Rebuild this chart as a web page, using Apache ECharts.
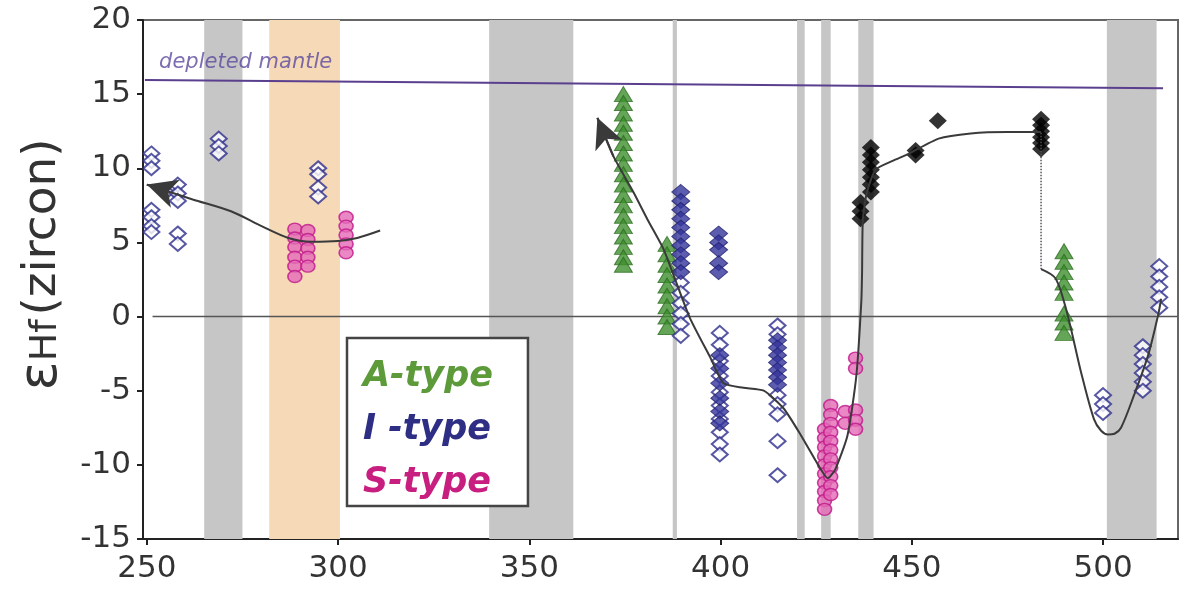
<!DOCTYPE html>
<html><head><meta charset="utf-8">
<script src="https://cdn.jsdelivr.net/npm/echarts@6/dist/echarts.min.js"></script>
<style>html,body{margin:0;padding:0;background:#fff}#c{width:1187px;height:595px}</style>
</head><body><div id="c"></div>
<script>
// ---- axes ----
const xTicks = [250, 300, 350, 400, 450, 500];
const xRange = [249, 519.6];
const yRange = [-15, 20];
const yStep = 5;

// ---- shaded age bands (Ma) ----
const grayBands = [[265, 275], [339.5, 361.5], [387.5, 388.6], [420, 422], [426.3, 428.8], [436, 440], [501, 514]];
const orangeBands = [[282, 300.5]];

// ---- reference lines ----
const depletedMantle = [[249.5, 15.95], [515.7, 15.4]];
const dmLabelPos = [[253.2, 17.1]];
const zeroLine = [[251.5, 0], [519.5, 0]];

// ---- data columns: [age, [eHf values]] ----
const iTypeOpenCols = [
  [251.2, [11.0, 10.5, 10.0, 7.2, 6.7, 6.1, 5.7]],
  [255.0, [8.4]],
  [258.1, [8.9, 8.3, 7.8, 5.6, 4.9]],
  [268.8, [12.0, 11.5, 11.0]],
  [294.8, [10.0, 9.6, 8.7, 8.1]],
  [389.6, [2.3, 1.6, 0.9, 0.2, -0.5, -1.3]],
  [399.8, [-1.1, -1.9, -3.0, -4.0, -5.1, -6.0, -6.9, -7.8, -8.6, -9.3]],
  [414.9, [-0.6, -1.2, -5.3, -5.9, -6.6, -8.4, -10.7]],
  [500.0, [-5.3, -5.9, -6.5]],
  [510.4, [-2.0, -2.6, -3.2, -3.8, -4.4, -5.0]],
  [514.7, [3.4, 2.7, 2.0, 1.3, 0.6]]
];
const iTypeFilledCols = [
  [389.6, [8.4, 7.8, 7.2, 6.6, 6.0, 5.4, 4.8, 4.2, 3.6, 3.0]],
  [399.5, [5.6, 5.0, 4.5, 3.6, 3.0]],
  [399.8, [-2.6, -3.5, -4.5, -5.5, -6.4, -7.2]],
  [414.9, [-1.6, -2.1, -2.6, -3.1, -3.6, -4.1, -4.6]]
];
const sTypeCols = [
  [288.7, [5.9, 5.3, 4.7, 4.0, 3.4, 2.7]],
  [292.1, [5.8, 5.2, 4.6, 4.0, 3.4]],
  [302.1, [6.7, 6.1, 5.5, 4.9, 4.3]],
  [427.2, [-7.6, -8.2, -8.8, -9.4, -10.0, -10.6, -11.2, -11.8, -12.4, -13.0]],
  [428.8, [-6.0, -6.6, -7.2, -7.8, -8.4, -9.0, -9.6, -10.2, -10.8, -11.4, -12.0]],
  [432.6, [-6.4, -7.2]],
  [435.3, [-2.8, -3.5, -6.3, -7.0, -7.6]]
];
const aTypeCols = [
  [374.6, [15.0, 14.4, 13.7, 13.0, 12.4, 11.7, 11.0, 10.3, 9.6, 8.9, 8.2, 7.5, 6.8, 6.1, 5.4, 4.7, 4.0, 3.5]],
  [386.0, [4.9, 4.2, 3.5, 2.8, 2.1, 1.4, 0.7, 0.0, -0.7]],
  [489.8, [4.4, 3.7, 3.0, 2.3, 1.6, 0.2, -0.4, -1.1]]
];
const blackCols = [
  [436.6, [7.7, 7.1, 6.6]],
  [439.3, [11.4, 10.9, 10.4, 9.9, 9.4, 8.9, 8.4]],
  [451.0, [10.9, 11.2]],
  [456.8, [13.2]],
  [483.8, [13.3, 12.9, 12.5, 12.1, 11.7, 11.3]]
];

// ---- evolution curves ----
const curveA = [[250, 8.9], [256, 8.4], [262, 7.9], [272, 7.1], [280, 6.1], [287, 5.3], [293, 5.05], [300, 5.1], [305, 5.3], [311, 5.8]];
const curveB = [[367.8, 13.4], [372, 10.8], [377.2, 8.4], [381, 6.5], [385, 4.6], [388, 2.6], [392, -0.1], [397.4, -2.8], [400.8, -4.5], [406, -4.8], [411.3, -5.0], [416.5, -6.2], [421, -8.0], [426.2, -10.3], [428, -10.9], [430, -10.3], [433.2, -8.0], [435.5, -4.0], [436.8, 1.0], [437, 3.0], [437.2, 6.5], [438.2, 8.3], [440.5, 9.9], [445, 10.5], [449, 10.95], [457, 12.0], [465.4, 12.35], [475, 12.45], [483.8, 12.45]];
const curveDotted = [[483.8, 12.4], [483.8, 3.2]];
const curveC = [[483.8, 3.2], [487.5, 2.6], [489.8, 1.0], [491.6, -0.8], [494.2, -3.7], [497.6, -6.9], [499.5, -7.7], [501.3, -7.95], [503, -7.9], [504.7, -7.5], [508.1, -5.3], [511.8, -2.6], [514.4, 0.1], [515.2, 1.2]];

function expand(cols) {
  const out = [];
  cols.forEach(c => c[1].forEach(v => out.push([c[0], v])));
  return out;
}
function arrowAtStart(curve) {
  return {
    silent: true, symbol: ['arrow', 'none'], symbolSize: [22, 30],
    lineStyle: {color: '#3a3a3a', width: 2, type: 'solid'},
    label: {show: false}, emphasis: {disabled: true},
    data: [[{coord: curve[0]}, {coord: curve[1]}]]
  };
}

const chart = echarts.init(document.getElementById('c'), null, {renderer: 'canvas'});
const curveStyle = {color: '#3a3a3a', width: 2};
const F = 'DejaVu Sans';

chart.setOption({
  animation: false,
  backgroundColor: '#fff',
  grid: {left: 143, right: 9, top: 20, bottom: 56, show: true, borderColor: '#666', borderWidth: 2, backgroundColor: 'transparent'},
  xAxis: {
    type: 'value', min: xRange[0], max: xRange[1],
    axisLine: {onZero: false, lineStyle: {color: '#222', width: 2}},
    axisTick: {show: true, length: 6, customValues: xTicks, lineStyle: {color: '#222', width: 2}},
    axisLabel: {customValues: xTicks, fontFamily: F, fontSize: 31, color: '#333', margin: 14},
    splitLine: {show: false}
  },
  yAxis: {
    type: 'value', min: yRange[0], max: yRange[1], interval: yStep,
    axisLine: {show: true, lineStyle: {color: '#222', width: 2}},
    axisTick: {show: true, length: 6, lineStyle: {color: '#222', width: 2}},
    axisLabel: {fontFamily: F, fontSize: 31, color: '#333', margin: 12},
    splitLine: {show: false},
    name: '{e|ε}{h|Hf} {z|(zircon)}',
    nameLocation: 'middle', nameGap: 73,
    nameTextStyle: {
      color: '#333', fontFamily: F, padding: [0, 0, 0, 30],
      rich: {
        e: {fontSize: 54, fontFamily: F, color: '#333'},
        h: {fontSize: 38, fontFamily: F, color: '#333', padding: [8, 0, 0, 0]},
        z: {fontSize: 47, fontFamily: F, color: '#333'}
      }
    }
  },
  legend: {
    left: 347, top: 338, orient: 'vertical', selectedMode: false,
    icon: 'rect', itemWidth: 0, itemHeight: 0, itemGap: 13,
    padding: [19, 35, 3, 10],
    borderColor: '#444', borderWidth: 2.5, backgroundColor: '#fff',
    textStyle: {fontFamily: F, fontSize: 35, fontWeight: 'bold', fontStyle: 'italic', lineHeight: 40},
    data: [
      {name: 'A-type', textStyle: {color: '#5c9a3a'}},
      {name: 'I -type', textStyle: {color: '#2e2e84'}},
      {name: 'S-type', textStyle: {color: '#c81e80'}}
    ]
  },
  series: [
    {
      name: 'bands', type: 'line', data: [], z: 1, silent: true,
      markArea: {
        silent: true,
        data: grayBands.map(b => [{xAxis: b[0], itemStyle: {color: '#c6c6c6'}}, {xAxis: b[1]}])
          .concat(orangeBands.map(b => [{xAxis: b[0], itemStyle: {color: '#f6dab8'}}, {xAxis: b[1]}]))
      }
    },
    {name: 'zero', type: 'line', data: zeroLine, symbol: 'none', z: 2, lineStyle: {color: '#555', width: 1.5}},
    {name: 'dm', type: 'line', data: depletedMantle, symbol: 'none', z: 2, lineStyle: {color: '#5a3f8e', width: 2}},
    {
      name: 'dmLabel', type: 'scatter', data: dmLabelPos, symbolSize: 0, z: 2,
      label: {show: true, position: 'right', distance: 0, formatter: 'depleted mantle',
        fontFamily: F, fontStyle: 'italic', fontSize: 21, color: '#5b4a9e'}
    },
    {name: 'black', type: 'scatter', data: expand(blackCols), symbol: 'diamond', symbolSize: [18, 17], z: 3,
      itemStyle: {color: '#000'}},
    {name: 'S-type', type: 'scatter', data: expand(sTypeCols), symbol: 'circle', symbolSize: [14, 12], z: 3,
      itemStyle: {color: '#e46ab6', borderColor: '#c0168a', borderWidth: 1.5}},
    {name: 'A-type', type: 'scatter', data: expand(aTypeCols), symbol: 'triangle', symbolSize: [18, 15], z: 3,
      itemStyle: {color: '#3e8e2e', borderColor: '#2d6e20', borderWidth: 1}},
    {name: 'I -type', type: 'scatter', data: expand(iTypeOpenCols), symbol: 'diamond', symbolSize: [16, 14], z: 3,
      itemStyle: {color: '#fff', borderColor: '#2d2d8c', borderWidth: 2}},
    {name: 'I -type', type: 'scatter', data: expand(iTypeFilledCols), symbol: 'diamond', symbolSize: [18, 15], z: 3,
      itemStyle: {color: '#35359c', borderColor: '#22226e', borderWidth: 1}},
    {name: 'cA', type: 'line', data: curveA, symbol: 'none', smooth: 0.3, z: 4, lineStyle: curveStyle,
      markLine: arrowAtStart(curveA)},
    {name: 'cB', type: 'line', data: curveB, symbol: 'none', smooth: 0.2, z: 4, lineStyle: curveStyle,
      markLine: arrowAtStart(curveB)},
    {name: 'cDot', type: 'line', data: curveDotted, symbol: 'none', z: 4, lineStyle: {color: '#555', width: 1.5, type: 'dotted'}},
    {name: 'cC', type: 'line', data: curveC, symbol: 'none', smooth: 0.3, z: 4, lineStyle: curveStyle}
  ]
});
</script>
</body></html>
